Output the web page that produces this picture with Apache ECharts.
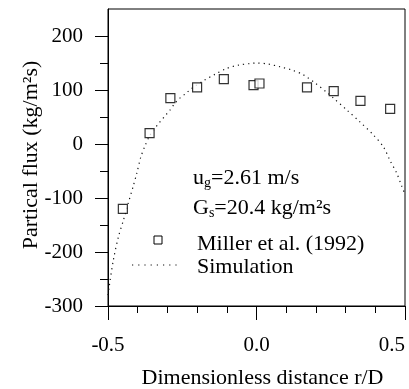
<!DOCTYPE html>
<html>
<head>
<meta charset="utf-8">
<script src="https://cdn.jsdelivr.net/npm/echarts@6/dist/echarts.min.js"></script>
<style>html,body{margin:0;padding:0;background:#fff}#c{width:409px;height:389px}</style>
</head>
<body>
<div id="c"></div>
<script>
// ---- data ----
var millerX = [-0.45, -0.36, -0.29, -0.20, -0.11, -0.01, 0.01, 0.17, 0.26, 0.35, 0.45];
var millerY = [-120, 20, 85, 105, 120, 109, 112, 105, 98, 80, 65];
var simX = [-0.5, -0.496, -0.482, -0.465, -0.448, -0.432, -0.415, -0.403, -0.39, -0.375, -0.359, -0.342, -0.325, -0.308, -0.291, -0.274, -0.258, -0.237, -0.218, -0.179, -0.14, -0.1, -0.061, -0.022, 0.0, 0.04, 0.079, 0.119, 0.158, 0.197, 0.236, 0.259, 0.304, 0.348, 0.393, 0.427, 0.449, 0.472, 0.489, 0.5];
var simY = [-280, -264, -215, -172, -141, -110, -78, -54, -25, -3, 16, 29, 41, 52, 63, 76, 85, 94, 103, 117, 129, 140, 146, 149, 150, 148, 143, 137, 128, 113, 96, 85, 63, 41, 17, -5, -30, -54, -78, -93];
var yMajorTicks = [-300, -200, -100, 0, 100, 200];
var yMinorTicks = [-250, -150, -50, 50, 150];
var xTickLabels = ['-0.5', '0.0', '0.5'];
var seriesNames = ['Miller et al. (1992)', 'Simulation'];
var annot1 = ['u', 'g', '=2.61 m/s'];
var annot2 = ['G', 's', '=20.4 kg/m\u00b2s'];
var xName = 'Dimensionless distance r/D';
var yName = 'Partical flux (kg/m\u00b2s)';

var F = "'Liberation Serif','Times New Roman',serif";
var FS = 22;   // names, annotation, legend
var FT = 21;   // tick labels
function pairs(xs, ys) { return xs.map(function (x, i) { return [x, ys[i]]; }); }

var chart = echarts.init(document.getElementById('c'), null, {renderer: 'canvas'});
var option = {
  animation: false,
  backgroundColor: '#fff',
  grid: {left: 108, right: 4, top: 9, bottom: 83, show: true, borderColor: '#000', borderWidth: 1,
         backgroundColor: 'transparent', containLabel: false, outerBoundsMode: 'none'},
  xAxis: {
    type: 'value', min: -0.5, max: 0.5, interval: 0.5,
    name: xName, nameLocation: 'middle', nameGap: 61, nameMoveOverlap: false,
    nameTextStyle: {fontFamily: F, fontSize: FS, color: '#000', padding: [0, 0, 0, 12]},
    axisLine: {show: true, onZero: false, lineStyle: {color: '#000', width: 1}},
    axisTick: {show: true, inside: false, length: 14, lineStyle: {color: '#000'}},
    minorTick: {show: true, splitNumber: 5, length: 7, lineStyle: {color: '#000'}},
    splitLine: {show: false},
    axisLabel: {fontFamily: F, fontSize: FT, color: '#000', margin: 29, hideOverlap: false,
      alignMaxLabel: 'right',
      formatter: function (v) { var i = Math.round((v + 0.5) / 0.5); return xTickLabels[i] !== undefined ? xTickLabels[i] : ''; }}
  },
  yAxis: [{
    type: 'value', min: -300, max: 250,
    name: yName, nameLocation: 'middle', nameGap: 66, nameMoveOverlap: false,
    nameTextStyle: {fontFamily: F, fontSize: FS, color: '#000', padding: [0, 0, 0, 5]},
    axisLine: {show: true, onZero: false, lineStyle: {color: '#000', width: 1}},
    axisTick: {show: true, inside: false, length: 13, customValues: yMajorTicks, lineStyle: {color: '#000'}},
    splitLine: {show: false},
    axisLabel: {fontFamily: F, fontSize: FT, color: '#000', margin: 25, customValues: yMajorTicks}
  }, {
    type: 'value', min: -300, max: 250, position: 'left',
    axisLine: {show: false, onZero: false},
    axisTick: {show: true, inside: false, length: 8, customValues: yMinorTicks, lineStyle: {color: '#000'}},
    axisLabel: {show: false},
    splitLine: {show: false}
  }],
  series: [{
    name: seriesNames[1], type: 'line', data: pairs(simX, simY),
    showSymbol: false, symbol: 'none', smooth: 0.3,
    lineStyle: {color: '#111', width: 1.2, type: [1.2, 4]},
    z: 2
  }, {
    name: seriesNames[0], type: 'scatter', data: pairs(millerX, millerY),
    symbol: 'rect', symbolSize: 9,
    itemStyle: {color: '#fff', borderColor: '#000', borderWidth: 1.2},
    z: 3
  }],
  graphic: [
    {type: 'text', x: 193, y: 178, style: {
      text: '{n|' + annot1[0] + '}{s|' + annot1[1] + '}{n|' + annot1[2] + '}',
      verticalAlign: 'middle',
      rich: {n: {fontFamily: F, fontSize: FS, fill: '#000', lineHeight: 24, verticalAlign: 'middle'},
             s: {fontFamily: F, fontSize: 14, fill: '#000', lineHeight: 7, verticalAlign: 'bottom'}}}},
    {type: 'text', x: 193, y: 208, style: {
      text: '{n|' + annot2[0] + '}{s|' + annot2[1] + '}{n|' + annot2[2] + '}',
      verticalAlign: 'middle',
      rich: {n: {fontFamily: F, fontSize: FS, fill: '#000', lineHeight: 24, verticalAlign: 'middle'},
             s: {fontFamily: F, fontSize: 14, fill: '#000', lineHeight: 7, verticalAlign: 'bottom'}}}},
    {type: 'rect', shape: {x: 154, y: 236, width: 8, height: 8}, style: {fill: '#fff', stroke: '#000', lineWidth: 1}},
    {type: 'text', x: 197, y: 244, style: {text: seriesNames[0], fontFamily: F, fontSize: FS, fill: '#000', verticalAlign: 'middle'}},
    {type: 'line', shape: {x1: 132, y1: 265, x2: 178, y2: 265}, style: {stroke: '#111', lineWidth: 1.2, lineDash: [1.2, 5]}},
    {type: 'text', x: 197, y: 267, style: {text: seriesNames[1], fontFamily: F, fontSize: FS, fill: '#000', verticalAlign: 'middle'}}
  ]
};
chart.setOption(option);
</script>
</body>
</html>
